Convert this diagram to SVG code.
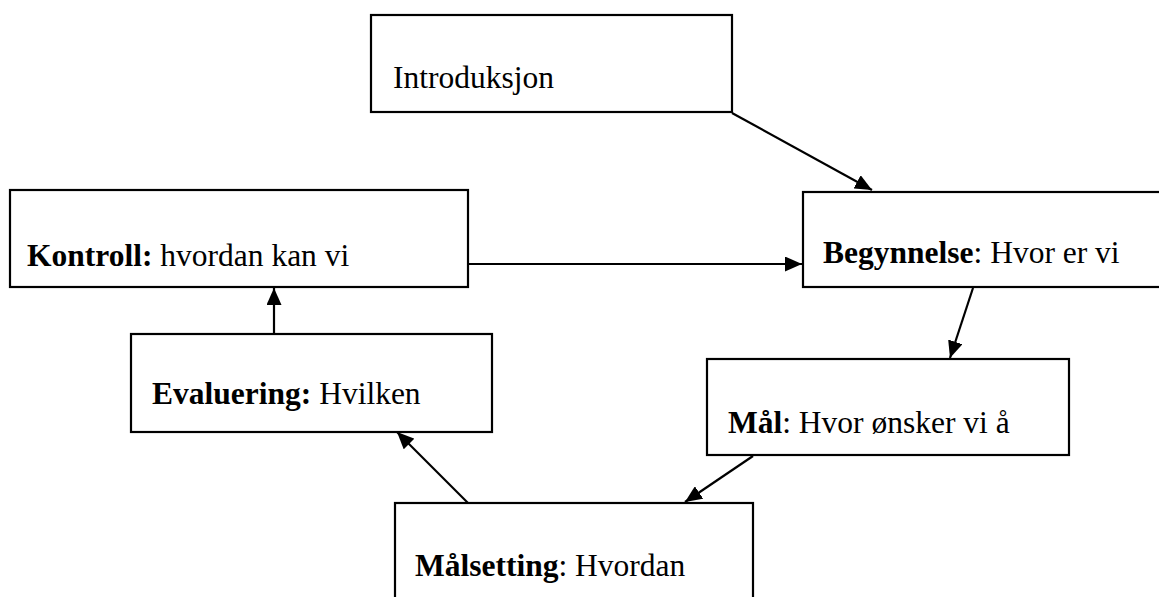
<svg xmlns="http://www.w3.org/2000/svg" width="1159" height="597" viewBox="0 0 1159 597">
<style>
.box{fill:#fff;stroke:#000;stroke-width:2.2}
.t{font-family:"Liberation Serif","Times New Roman",serif;font-size:31.5px;fill:#000}
.b{font-weight:bold}
.c{stroke:#000;stroke-width:2.2;fill:none;marker-end:url(#ah)}
</style>
<defs>
<marker id="ah" markerWidth="17" markerHeight="15" refX="17" refY="7.5" orient="auto" markerUnits="userSpaceOnUse">
<path d="M0,0 L17,7.5 L0,15 Z" fill="#000"/>
</marker>
</defs>
<rect width="1159" height="597" fill="#fff"/>
<g id="connectors">
<line class="c" x1="732" y1="113" x2="872" y2="190"/>
<line class="c" x1="468" y1="264" x2="802" y2="264"/>
<line class="c" x1="973" y1="288" x2="950" y2="358"/>
<line class="c" x1="753" y1="456" x2="685" y2="502"/>
<line class="c" x1="468" y1="503" x2="397" y2="432"/>
<line class="c" x1="274" y1="334" x2="274" y2="288"/>
</g>
<g id="intro">
<rect class="box" x="371" y="15" width="361" height="97"/>
<text class="t" x="393" y="88">Introduksjon</text>
</g>
<g id="kontroll">
<rect class="box" x="10" y="190" width="458" height="97"/>
<text class="t" x="27" y="266"><tspan class="b">Kontroll:</tspan> hvordan kan vi</text>
</g>
<g id="begynnelse">
<rect class="box" x="803" y="192" width="370" height="95"/>
<text class="t" x="823" y="263"><tspan class="b">Begynnelse</tspan>: Hvor er vi</text>
</g>
<g id="evaluering">
<rect class="box" x="131" y="334" width="361" height="98"/>
<text class="t" x="152" y="404"><tspan class="b">Evaluering:</tspan> Hvilken</text>
</g>
<g id="maal">
<rect class="box" x="707" y="359" width="362" height="96"/>
<text class="t" x="728" y="433"><tspan class="b">Mål</tspan>: Hvor ønsker vi å</text>
</g>
<g id="maalsetting">
<rect class="box" x="395" y="503" width="358" height="110"/>
<text class="t" x="415" y="576"><tspan class="b">Målsetting</tspan>: Hvordan</text>
</g>
</svg>
